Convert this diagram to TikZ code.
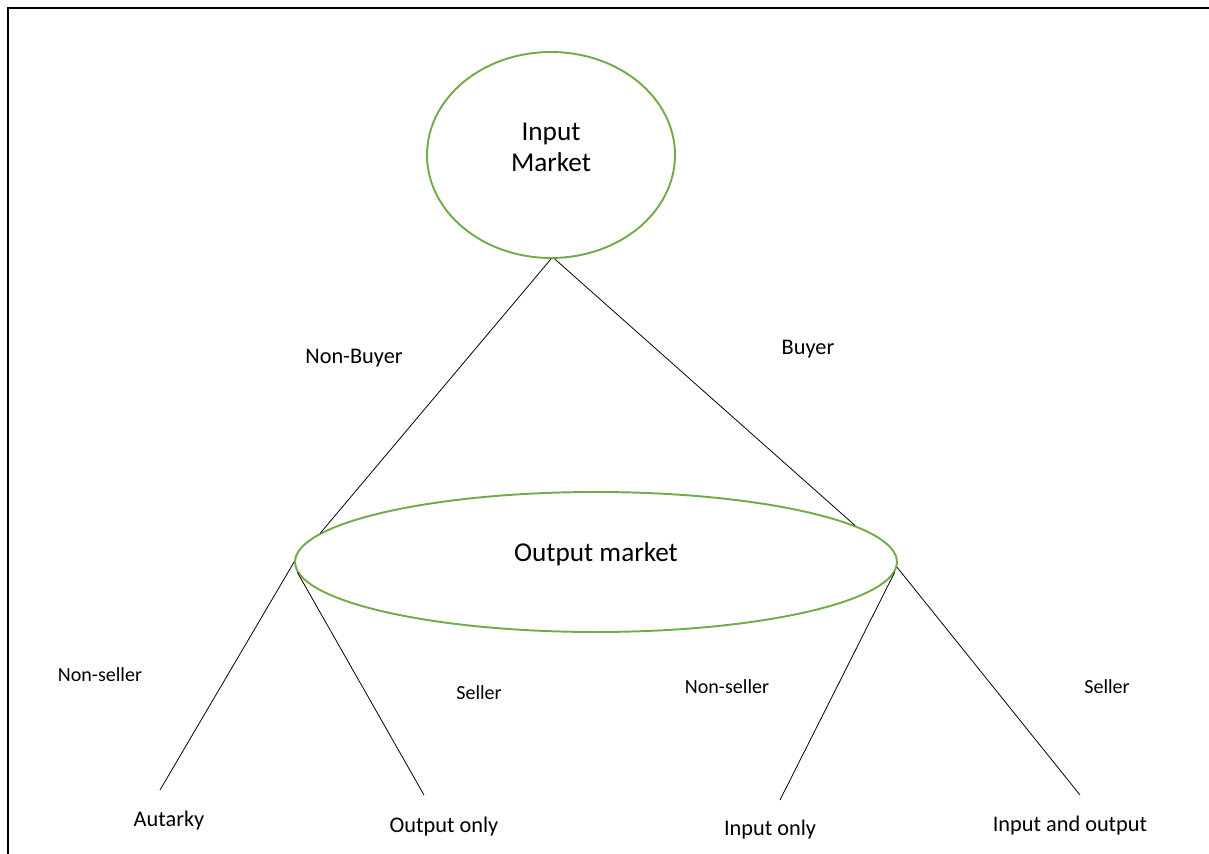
\documentclass[tikz,border=0pt]{standalone}
\usepackage{fontspec}
\setmainfont{Carlito}
\usepackage{xcolor}
\usepackage{tikz}
\usetikzlibrary{shapes.geometric, positioning, calc}
\definecolor{mktgreen}{HTML}{70AD47}

\begin{document}
\begin{tikzpicture}[x=0.02cm, y=-0.02cm,
        market/.style={ellipse, draw=mktgreen, line width=1.1pt, inner sep=0pt, font=\fontsize{15.5}{17.5}\selectfont, align=center},
        branch/.style={draw=black, line width=0.45pt},
        choice/.style={font=\fontsize{11.4}{13}\selectfont},
        outcome/.style={font=\fontsize{12.7}{15}\selectfont}]
    \useasboundingbox (0,0) rectangle (1209,854);
    % frame
    \draw[line width=1.5pt] (8,854) -- (8,8) -- (1209,8);
    % markets
    \node (inmkt) [market, minimum width=4.96cm, minimum height=4.12cm, text depth=8.6pt] at (551,155) {Input\\Market};
    \node (outmkt) [market, minimum width=12.04cm, minimum height=2.8cm, text depth=11pt] at (596,562) {Output market};
    % leaf ends
    \coordinate (autend) at (160,790);
    \coordinate (outend) at (424,795);
    \coordinate (inend) at (780,800);
    \coordinate (ioend) at (1080,795);
    % branches
    \draw[branch] (inmkt.-90) -- (outmkt.174);
    \draw[branch] (inmkt.-88) -- (outmkt.8);
    \draw[branch] (outmkt.180) -- (autend);
    \draw[branch] (outmkt.-178) -- (outend);
    \draw[branch] (outmkt.-2.2) -- (inend);
    \draw[branch] (outmkt.-1.8) -- (ioend);
    % labels
    \node (nonbuyer) [choice, font=\fontsize{12.7}{15}\selectfont] at (354,358) {Non-Buyer};
    \node (buyer) [choice, font=\fontsize{12.7}{15}\selectfont] at (808,349) {Buyer};
    \node (nonsell1) [choice] at (100,675) {Non-seller};
    \node (sell1) [choice] at (479,693) {Seller};
    \node (nonsell2) [choice] at (727,687) {Non-seller};
    \node (sell2) [choice] at (1107,687) {Seller};
    \node (autarky) [outcome] at (169,821) {Autarky};
    \node (outonly) [outcome] at (444,827) {Output only};
    \node (inonly) [outcome] at (770,830) {Input only};
    \node (inout) [outcome] at (1070,826) {Input and output};
\end{tikzpicture}
\end{document}
